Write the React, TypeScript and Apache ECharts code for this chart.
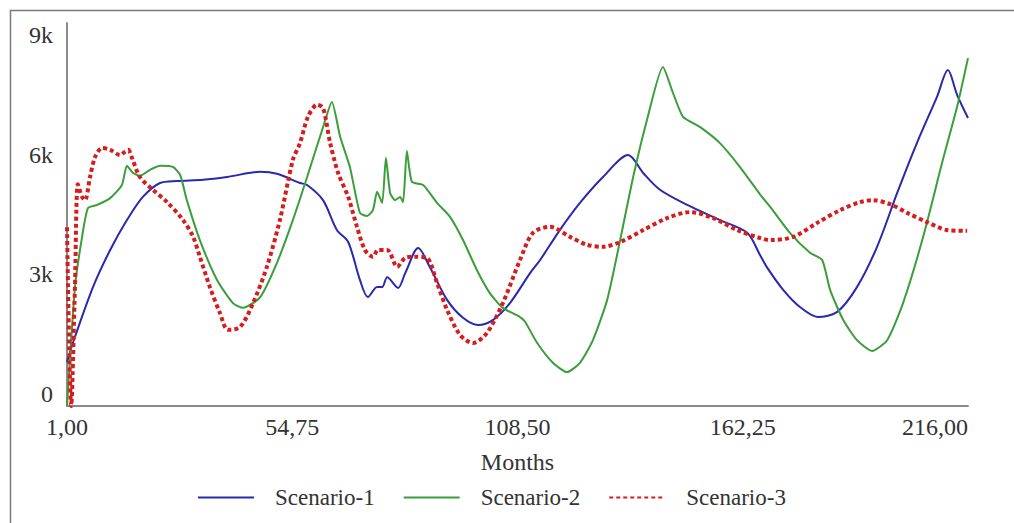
import React, { useEffect, useRef } from "react";
import * as echarts from "echarts";

// [month, value]
const scenario1: [number, number][] = [
  [1, 1100], [2.4, 1580], [7.2, 2980], [11.3, 3910], [15.3, 4660], [19.1, 5240], [23.2, 5590],
  [27.3, 5640], [33.5, 5670], [39.2, 5740], [47.1, 5870], [51.1, 5820], [56.6, 5590], [58.3, 5540],
  [62.1, 5160], [65.4, 4410], [68.1, 4110], [70.9, 3160], [72.8, 2730], [75.0, 2980], [76.2, 2980],
  [77.4, 3230], [80.0, 2960], [81.7, 3330], [84.8, 3960], [87.6, 3480], [91.7, 2660], [95.5, 2210],
  [99.1, 2030], [102.7, 2160], [106.7, 2580], [111.5, 3330], [113.9, 3660], [118.6, 4410],
  [123.4, 5090], [128.9, 5740], [134.9, 6290], [138.5, 5840], [142.5, 5420], [149.0, 5040],
  [156.8, 4660], [163.3, 4340], [166.4, 3780], [168.0, 3480], [171.9, 2910], [175.9, 2480],
  [180.2, 2230], [184.8, 2360], [189.5, 2980], [194.3, 3990], [199.1, 5340], [203.8, 6590],
  [208.6, 7750], [211.2, 8420], [213.4, 7800], [216, 7220],
];

const scenario2: [number, number][] = [
  [1, 0], [2.9, 2980], [4.6, 4240], [6.0, 4960], [8.2, 5040], [11.3, 5210], [14.1, 5540],
  [15.3, 6020], [16.8, 5840], [18.4, 5770], [20.8, 5920], [23.2, 6020], [26.3, 5990], [28.0, 5790],
  [29.6, 5160], [32.7, 4160], [36.8, 3160], [40.6, 2580], [43.0, 2460], [47.1, 2730], [51.1, 3590],
  [54.9, 4660], [58.3, 5740], [62.1, 6990], [64.2, 7620], [66.2, 6740], [68.5, 5990], [70.9, 4840],
  [72.6, 4760], [74.0, 4910], [75.0, 5370], [76.2, 5090], [77.1, 6220], [78.1, 5340], [79.3, 5160],
  [80.5, 5240], [81.2, 5110], [82.1, 6390], [83.3, 5620], [86.0, 5540], [89.3, 5090], [92.4, 4740],
  [95.5, 4160], [98.8, 3410], [101.9, 2830], [105.0, 2460], [109.1, 2230], [110.3, 2110],
  [113.2, 1580], [117.0, 1080], [120.3, 850], [123.4, 1080], [126.5, 1650], [129.9, 2660],
  [133.0, 4160], [136.1, 5740], [139.4, 7170], [143.2, 8500], [145.6, 7850], [148.0, 7250],
  [152.1, 6990], [156.8, 6590], [161.6, 5990], [166.4, 5300], [168.8, 4990], [173.5, 4340],
  [178.3, 3840], [181.2, 3660], [183.1, 2910], [186.2, 2160], [189.5, 1650], [193.1, 1380],
  [196.7, 1650], [200.5, 2580], [205.3, 4240], [210.0, 6170], [213.4, 7500], [216, 8720],
];

const scenario3: [number, number][] = [
  [1, 4480], [2.0, 0], [2.9, 3000], [3.6, 5560], [4.6, 5240], [5.3, 5160], [6.5, 5740], [7.7, 6240],
  [9.4, 6470], [11.3, 6420], [13.7, 6290], [14.8, 6370], [15.6, 6420], [16.5, 6220], [18.4, 5740],
  [21.5, 5420], [24.9, 5110], [28.7, 4660], [31.1, 4240], [32.7, 3740], [35.1, 2980], [37.5, 2330],
  [39.4, 1910], [42.3, 1980], [45.4, 2580], [48.7, 3490], [51.8, 4660], [54.9, 6170], [56.6, 6590],
  [58.5, 7250], [60.7, 7550], [62.1, 7470], [63.8, 6590], [65.7, 5840], [68.1, 5240], [70.2, 4490],
  [72.1, 3910], [74.0, 3740], [75.2, 3910], [77.4, 3910], [79.8, 3490], [81.7, 3710], [84.0, 3740],
  [86.9, 3710], [89.3, 3080], [91.7, 2410], [94.8, 1780], [97.9, 1580], [101.2, 1830], [105.0, 2580],
  [109.1, 3660], [112.2, 4340], [116.3, 4490], [121.0, 4240], [125.1, 4040], [128.9, 3990],
  [133.0, 4110], [138.5, 4410], [144.2, 4710], [149.7, 4860], [155.2, 4710], [160.9, 4410],
  [166.4, 4210], [168.8, 4160], [174.3, 4240], [180.0, 4590], [185.5, 4910], [190.2, 5110],
  [193.3, 5160], [197.4, 5060], [201.5, 4840], [206.2, 4610], [211.0, 4410], [215.8, 4390],
];

const seriesNames = ["Scenario-1", "Scenario-2", "Scenario-3"];
const xTickLabels = ["1,00", "54,75", "108,50", "162,25", "216,00"];
const yTickValues = [0, 3000, 6000, 9000];

const FONT = "'Liberation Serif', 'DejaVu Serif', serif";
const TEXT = "#333333";

export default function App() {
  const ref = useRef<HTMLDivElement>(null);
  useEffect(() => {
    if (!ref.current) return;
    const chart = echarts.init(ref.current, null, { renderer: "svg" });
    chart.setOption({
      animation: false,
      backgroundColor: "#ffffff",
      textStyle: { fontFamily: FONT },
      graphic: [
        {
          type: "rect",
          shape: { x: 10.5, y: 10.5, width: 1020, height: 530 },
          style: { fill: "none", stroke: "#7a7a7a", lineWidth: 1.5 },
          silent: true,
        },
      ],
      grid: { left: 67, top: 23, right: 46, bottom: 117, containLabel: false },
      legend: {
        left: 192,
        top: 481,
        itemWidth: 56,
        itemHeight: 14,
        itemGap: 28,
        data: seriesNames,
        itemStyle: { opacity: 0 },
        textStyle: { fontFamily: FONT, fontSize: 23, color: TEXT, padding: [0, 0, 0, 16] },
      },
      xAxis: [
        {
          type: "value",
          min: 1,
          max: 216,
          position: "bottom",
          name: "Months",
          nameLocation: "middle",
          nameGap: 44,
          nameTextStyle: { fontFamily: FONT, fontSize: 24, color: TEXT },
          axisLine: { show: true, lineStyle: { color: "#8a8a8a", width: 2 } },
          axisTick: { show: false },
          axisLabel: { show: false },
          splitLine: { show: false },
        },
        {
          type: "value",
          min: 0,
          max: 4,
          interval: 1,
          position: "bottom",
          axisLine: { show: false },
          axisTick: { show: false },
          splitLine: { show: false },
          axisLabel: {
            margin: 9,
            fontFamily: FONT,
            fontSize: 24,
            color: TEXT,
            alignMaxLabel: "right",
            formatter: (v: number) => {
              const i = Math.round(v);
              return Math.abs(v - i) < 1e-6 && xTickLabels[i] ? xTickLabels[i] : "";
            },
          },
        },
      ],
      yAxis: {
        type: "value",
        min: 0,
        max: 9600,
        interval: 3000,
        axisLine: { show: true, lineStyle: { color: "#8a8a8a", width: 2 } },
        axisTick: { show: false },
        splitLine: { show: false },
        axisLabel: {
          margin: 14,
          fontFamily: FONT,
          fontSize: 24,
          color: TEXT,
          verticalAlign: "bottom",
          formatter: (v: number) =>
            yTickValues.includes(v) ? (v === 0 ? "0" : v / 1000 + "k") : "",
        },
      },
      series: [
        {
          name: seriesNames[0],
          type: "line",
          xAxisIndex: 0,
          data: scenario1,
          symbol: "none",
          smooth: 0.3,
          lineStyle: { color: "#2828b0", width: 2 },
          itemStyle: { color: "#2828b0" },
        },
        {
          name: seriesNames[1],
          type: "line",
          xAxisIndex: 0,
          data: scenario2,
          symbol: "none",
          smooth: 0.2,
          lineStyle: { color: "#3a9e3a", width: 2 },
          itemStyle: { color: "#3a9e3a" },
        },
        {
          name: seriesNames[2],
          type: "line",
          xAxisIndex: 0,
          data: scenario3,
          symbol: "none",
          smooth: 0.3,
          lineStyle: { color: "#d61c1c", width: 4, type: [4, 3] },
          itemStyle: { color: "#d61c1c" },
        },
      ],
    });
    return () => chart.dispose();
  }, []);
  return (
    <div
      ref={ref}
      style={{ position: "fixed", left: 0, top: 0, width: 1014, height: 523 }}
    />
  );
}
